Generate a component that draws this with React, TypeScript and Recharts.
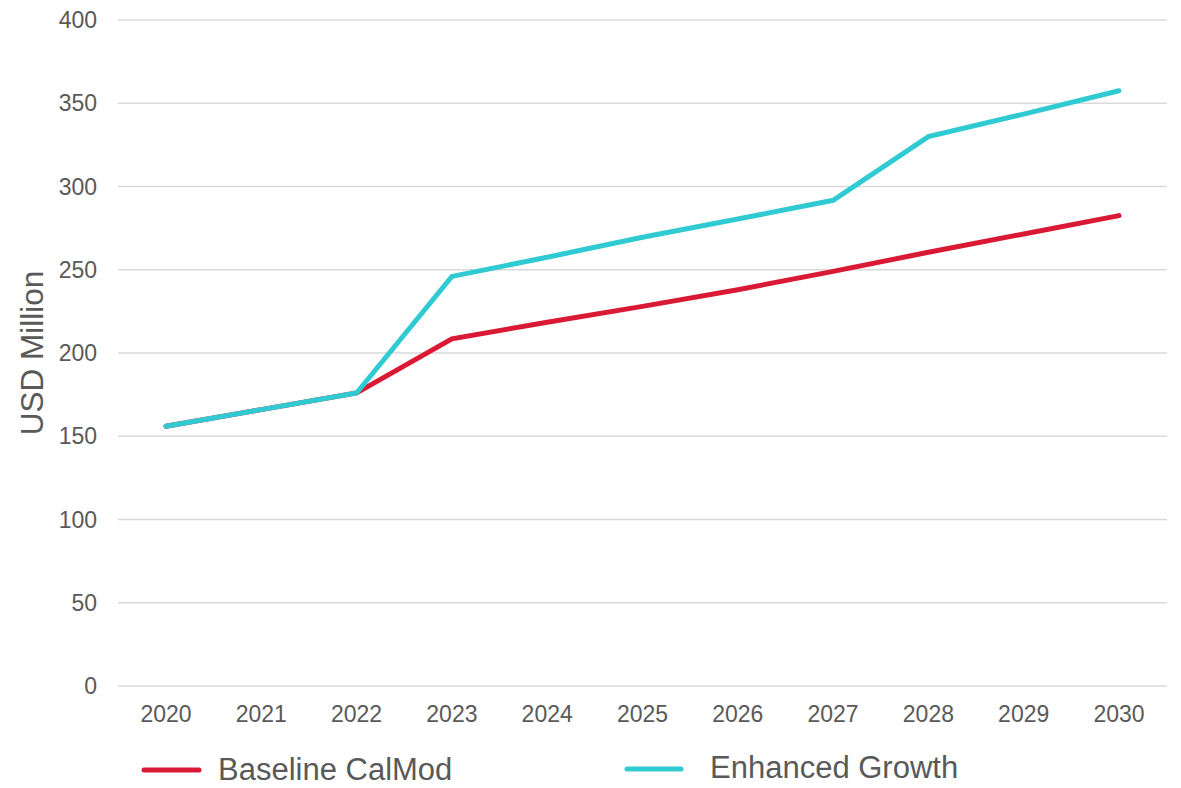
import React from 'react'
import { LineChart, Line, XAxis, YAxis, CartesianGrid, Legend } from 'recharts'

const years = ['2020', '2021', '2022', '2023', '2024', '2025', '2026', '2027', '2028', '2029', '2030']
const baseline = [156, 166, 176, 208.5, 218.5, 228, 238, 249, 260.5, 271.5, 282.5]
const enhanced = [156, 166, 176, 246, 257.5, 269.5, 280.5, 291.7, 330, 343.5, 357.5]
const yTicks = [0, 50, 100, 150, 200, 250, 300, 350, 400]

const RED = '#DA1A35'
const CYAN = '#30CBD2'
const TEXT = '#595959'
const FONT = '"Liberation Sans", Arial, sans-serif'

const data = years.map((year, i) => ({
  year,
  baseline: baseline[i],
  enhanced: enhanced[i],
}))

function LegendBox() {
  return (
    <svg width={1181} height={60} style={{ display: 'block' }}>
      <line x1={144} x2={199} y1={42} y2={42} stroke={RED} strokeWidth={5} strokeLinecap="round" />
      <text x={218} y={52} fontSize={31} fill={TEXT} fontFamily={FONT}>
        Baseline CalMod
      </text>
      <line x1={627} x2={681} y1={41} y2={41} stroke={CYAN} strokeWidth={5} strokeLinecap="round" />
      <text x={710} y={50} fontSize={31} fill={TEXT} fontFamily={FONT}>
        Enhanced Growth
      </text>
    </svg>
  )
}

function YLabel(props: any) {
  const vb = props.viewBox || { x: 0, y: 0, width: 0, height: 0 }
  const cx = vb.x + 32
  const cy = vb.y + vb.height / 2
  return (
    <text
      transform={`translate(${cx},${cy}) rotate(-90)`}
      textAnchor="middle"
      dominantBaseline="central"
      fontSize={31.5}
      fill={TEXT}
      fontFamily={FONT}
    >
      USD Million
    </text>
  )
}

export default function App() {
  return (
    <div style={{ position: 'absolute', left: 0, top: 0, fontFamily: FONT }}>
      <LineChart width={1181} height={788} data={data} margin={{ top: 20, right: 14, left: 0, bottom: 0 }}>
        <CartesianGrid horizontal vertical={false} stroke="#D9D9D9" strokeWidth={1.5} />
        <XAxis
          dataKey="year"
          axisLine={false}
          tickLine={false}
          padding={{ left: 48, right: 48 }}
          height={42}
          tickMargin={14}
          tick={{ fontSize: 23, fill: TEXT }}
          interval={0}
        />
        <YAxis
          domain={[0, 400]}
          ticks={yTicks}
          width={118}
          axisLine={false}
          tickLine={false}
          tickMargin={15}
          tick={{ fontSize: 23, fill: TEXT }}
          label={{ content: YLabel }}
        />
        <Legend verticalAlign="bottom" height={60} wrapperStyle={{ left: 0, width: 1181 }} content={LegendBox} />
        <Line
          type="linear"
          dataKey="baseline"
          name="Baseline CalMod"
          stroke={RED}
          strokeWidth={5}
          strokeLinecap="round"
          dot={false}
          activeDot={false}
          isAnimationActive={false}
        />
        <Line
          type="linear"
          dataKey="enhanced"
          name="Enhanced Growth"
          stroke={CYAN}
          strokeWidth={5}
          strokeLinecap="round"
          dot={false}
          activeDot={false}
          isAnimationActive={false}
        />
      </LineChart>
    </div>
  )
}
